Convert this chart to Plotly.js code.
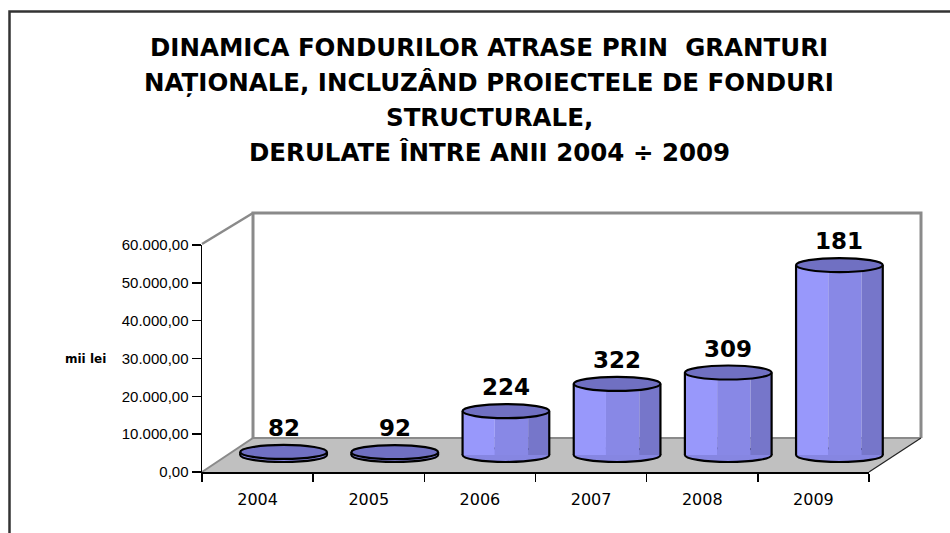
<!DOCTYPE html>
<html><head><meta charset="utf-8">
<script src="https://cdn.plot.ly/plotly-3.0.1.min.js"></script>
<style>html,body{margin:0;padding:0;background:#fff}#chart{width:950px;height:533px}</style>
</head><body><div id="chart"></div>
<script>
// ---- data ----
const years = ['2004', '2005', '2006', '2007', '2008', '2009'];
const fundsMiiLei = [800, 750, 11600, 18800, 21800, 50200];
const projectLabels = ['82', '92', '224', '322', '309', '181'];
const yTickValues = [0, 10000, 20000, 30000, 40000, 50000, 60000];
const yAxisTitle = 'mii lei';
const titleLines = [
  'DINAMICA FONDURILOR ATRASE PRIN  GRANTURI',
  'NAȚIONALE, INCLUZÂND PROIECTELE DE FONDURI',
  'STRUCTURALE,',
  'DERULATE ÎNTRE ANII 2004 ÷ 2009'
];

// ---- geometry helpers (pixel -> paper) ----
const W = 950, H = 533;
const px = x => x / W;
const py = y => 1 - y / H;
const P = (x, y) => px(x).toFixed(5) + ',' + py(y).toFixed(5);

const half = 0.39;      // half bar width, category units
const capPx = 7;        // ellipse half height in px
const yMax = 60000;
const planePx = 227;    // height of 0..60000 in px
const padPx = 10;       // room below the base plane for the bottom ellipse
const yMin2 = -padPx * yMax / planePx;

// bar strips (pseudo cylinder shading)
const strips = [
  {offset: -half, width: 0.29, color: '#9898fb'},
  {offset: -0.10, width: 0.30, color: '#8888e6'},
  {offset: 0.20, width: half - 0.20, color: '#7676ca'}
];
const traces = [{
  // front (axis) plane: carries the visible category / value axes
  type: 'scatter', mode: 'none', x: years, y: fundsMiiLei, xaxis: 'x', yaxis: 'y',
  hoverinfo: 'skip', showlegend: false
}].concat(strips.map(s => ({
  type: 'bar', x: years, y: fundsMiiLei, xaxis: 'x2', yaxis: 'y2', base: 0,
  offset: s.offset, width: s.width,
  marker: {color: s.color, line: {width: 0}},
  hoverinfo: 'skip', showlegend: false
})));

// decoration shapes (frame, floor, walls)
const shapes = [
  {type: 'path', xref: 'paper', yref: 'paper', layer: 'below',
   path: 'M' + P(9.5, 533) + 'L' + P(9.5, 11.5) + 'L' + P(950, 11.5),
   line: {color: '#333333', width: 2.5}},
  {type: 'path', xref: 'paper', yref: 'paper', layer: 'below',
   path: 'M' + P(202, 472) + 'L' + P(869, 472) + 'L' + P(921, 438) + 'L' + P(253, 438) + 'Z',
   fillcolor: '#c0c0c0', line: {width: 0}},
  {type: 'path', xref: 'paper', yref: 'paper', layer: 'below',
   path: 'M' + P(253, 438) + 'L' + P(253, 213) + 'L' + P(921, 213) + 'L' + P(921, 438),
   line: {color: '#8a8a8a', width: 3}},
  {type: 'path', xref: 'paper', yref: 'paper', layer: 'below',
   path: 'M' + P(202, 244) + 'L' + P(253, 213),
   line: {color: '#8a8a8a', width: 2.5}},
  {type: 'path', xref: 'paper', yref: 'paper', layer: 'below',
   path: 'M' + P(202, 472) + 'L' + P(253, 438) + 'L' + P(921, 438),
   line: {color: '#8a8a8a', width: 2}},
  {type: 'path', xref: 'paper', yref: 'paper', layer: 'below',
   path: 'M' + P(869, 472) + 'L' + P(921, 438),
   line: {color: '#222222', width: 1.2}}
];

// cylinder caps / sides derived from the data
fundsMiiLei.forEach((v, i) => {
  shapes.push({type: 'circle', xref: 'x2', yref: 'y2', layer: 'between',
    x0: i - half, x1: i + half, ysizemode: 'pixel', yanchor: 0.001, y0: -capPx, y1: capPx,
    fillcolor: '#8686e2', line: {color: '#000', width: 2.2}});
  shapes.push({type: 'line', xref: 'x2', yref: 'y2', layer: 'above',
    x0: i - half, x1: i - half, y0: 0, y1: v, line: {color: '#000', width: 2.2}});
  shapes.push({type: 'line', xref: 'x2', yref: 'y2', layer: 'above',
    x0: i + half, x1: i + half, y0: 0, y1: v, line: {color: '#000', width: 2.2}});
  shapes.push({type: 'circle', xref: 'x2', yref: 'y2', layer: 'above',
    x0: i - half, x1: i + half, ysizemode: 'pixel', yanchor: v, y0: -capPx, y1: capPx,
    fillcolor: '#7070c2', line: {color: '#000', width: 2.2}});
});

const annotations = [];
titleLines.forEach((t, k) => {
  annotations.push({xref: 'paper', yref: 'paper', x: px(489), y: py(47 + k * 35.2),
    xanchor: 'center', yanchor: 'middle', showarrow: false, text: t,
    font: {family: 'DejaVu Sans', size: 24.5, weight: 'bold', color: '#000'}});
});
years.forEach((yr, i) => {
  annotations.push({xref: 'x2', yref: 'y2', x: i, y: fundsMiiLei[i], yshift: 24,
    xanchor: 'center', yanchor: 'middle', showarrow: false, text: projectLabels[i],
    font: {family: 'DejaVu Sans', size: 23, weight: 'bold', color: '#000'}});
});
annotations.push({xref: 'paper', yref: 'paper', x: px(85), y: py(359),
  xanchor: 'center', yanchor: 'middle', showarrow: false, text: yAxisTitle,
  font: {family: 'DejaVu Sans', size: 12, weight: 'bold', color: '#000'}});

const layout = {
  width: W, height: H,
  margin: {l: 0, r: 0, t: 0, b: 0},
  paper_bgcolor: '#ffffff', plot_bgcolor: 'rgba(0,0,0,0)',
  separators: ',.',
  barmode: 'overlay',
  showlegend: false,
  xaxis: {domain: [px(202), px(869)], type: 'category', categoryarray: years,
    range: [-0.5, 5.5], anchor: 'y', showline: true, linecolor: '#000', linewidth: 1.5,
    ticks: 'outside', tickson: 'boundaries', ticklen: 8, tickcolor: '#000', tickwidth: 1.5,
    ticklabelstandoff: 12,
    tickfont: {family: 'DejaVu Sans', size: 16, color: '#000'},
    showgrid: false, zeroline: false, fixedrange: true},
  yaxis: {domain: [py(472), py(472 - planePx)], range: [0, yMax], anchor: 'x',
    tickmode: 'array', tickvals: yTickValues, tickformat: ',.2f',
    showline: true, linecolor: '#000', linewidth: 1.5,
    ticks: 'outside', ticklen: 9, tickcolor: '#000', tickwidth: 1.5,
    tickfont: {family: 'Liberation Sans', size: 15, color: '#000'},
    showgrid: false, zeroline: false, fixedrange: true},
  xaxis2: {domain: [px(228), px(895)], type: 'category', categoryarray: years,
    range: [-0.5, 5.5], anchor: 'y2', visible: false, fixedrange: true},
  yaxis2: {domain: [py(455 + padPx), py(455 - planePx)], range: [yMin2, yMax], anchor: 'x2',
    visible: false, fixedrange: true},
  shapes: shapes,
  annotations: annotations
};

Plotly.newPlot('chart', traces, layout, {displayModeBar: false, staticPlot: true});
</script>
</body></html>
